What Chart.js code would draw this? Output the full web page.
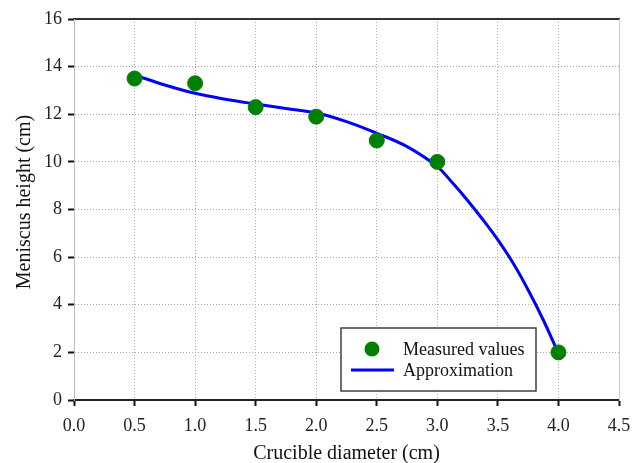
<!DOCTYPE html>
<html>
<head>
<meta charset="utf-8">
<script src="https://cdn.jsdelivr.net/npm/chart.js@4/dist/chart.umd.min.js"></script>
<style>
  html, body { margin: 0; padding: 0; background: #fff; }
  #wrap { width: 633px; height: 463px; }
</style>
</head>
<body>
<div id="wrap"><canvas id="c" width="633" height="463"></canvas></div>
<script>
// Measured meniscus heights for each crucible diameter
const diameters = [0.5, 1.0, 1.5, 2.0, 2.5, 3.0, 4.0];
const heights = [13.5, 13.3, 12.3, 11.9, 10.9, 10.0, 2.0];

// Approximating curve, sampled along its length
const fitDiameters = [0.5, 0.75, 1.0, 1.25, 1.5, 1.75, 2.0, 2.25, 2.5, 2.75, 3.0, 3.125, 3.25, 3.375, 3.5, 3.625, 3.75, 3.875, 4.0];
const fitHeights = [13.65, 13.23, 12.88, 12.63, 12.43, 12.24, 12.05, 11.69, 11.2, 10.64, 9.8, 9.12, 8.38, 7.58, 6.72, 5.75, 4.62, 3.36, 1.95];

const xTicks = [0, 0.5, 1.0, 1.5, 2.0, 2.5, 3.0, 3.5, 4.0, 4.5];
const yTicks = [0, 2, 4, 6, 8, 10, 12, 14, 16];

const seriesNames = ['Measured values', 'Approximation'];

const FONT = '"Liberation Serif", "Times New Roman", serif';
const GREEN = '#008000';
const BLUE = '#0000ff';
const GRID = '#ababab';

const measured = diameters.map((d, i) => ({ x: d, y: heights[i] }));
const fit = fitDiameters.map((d, i) => ({ x: d, y: fitHeights[i] }));

// Legend box drawn inside the plot, lower right
const boxLegend = {
  id: 'boxLegend',
  afterDraw(chart) {
    const { ctx, chartArea } = chart;
    const left = chartArea.left + 267;
    const right = chartArea.right - 83;
    const bottom = chartArea.bottom - 9;
    const top = bottom - 63;
    ctx.save();
    ctx.fillStyle = '#fff';
    ctx.fillRect(left, top, right - left, bottom - top);
    ctx.strokeStyle = '#404040';
    ctx.lineWidth = 1.5;
    ctx.strokeRect(left, top, right - left, bottom - top);

    const row1 = top + 21;
    const row2 = top + 42;
    ctx.fillStyle = GREEN;
    ctx.beginPath();
    ctx.arc(left + 31, row1, 7.5, 0, Math.PI * 2);
    ctx.fill();

    ctx.strokeStyle = BLUE;
    ctx.lineWidth = 3;
    ctx.beginPath();
    ctx.moveTo(left + 10, row2);
    ctx.lineTo(left + 53, row2);
    ctx.stroke();

    ctx.fillStyle = '#111';
    ctx.font = '18px ' + FONT;
    ctx.textBaseline = 'middle';
    ctx.textAlign = 'left';
    ctx.fillText(seriesNames[0], left + 62, row1 + 1);
    ctx.fillText(seriesNames[1], left + 62, row2 + 1);
    ctx.restore();
  }
};

const edgeless = (vals) => (c) => {
  const v = c.tick ? c.tick.value : null;
  return (v === vals[0] || v === vals[1]) ? 'rgba(0,0,0,0)' : GRID;
};

new Chart(document.getElementById('c'), {
  type: 'scatter',
  data: {
    datasets: [
      {
        label: seriesNames[0],
        data: measured,
        backgroundColor: GREEN,
        borderColor: GREEN,
        pointRadius: 7.5,
        pointHoverRadius: 7.5,
        showLine: false,
        order: 0
      },
      {
        label: seriesNames[1],
        data: fit,
        type: 'line',
        borderColor: BLUE,
        borderWidth: 3,
        pointRadius: 0,
        fill: false,
        tension: 0.4,
        order: 1
      }
    ]
  },
  options: {
    responsive: false,
    animation: false,
    layout: { padding: 0 },
    plugins: {
      legend: { display: false },
      tooltip: { enabled: false }
    },
    scales: {
      x: {
        type: 'linear',
        position: 'bottom',
        min: 0,
        max: 4.5,
        afterBuildTicks: (s) => { s.ticks = xTicks.map(v => ({ value: v })); },
        afterFit: (s) => { s.height = 63; s.paddingLeft = 0; s.paddingRight = 0; },
        ticks: {
          font: { family: FONT, size: 18 },
          color: '#222',
          padding: 9,
          maxRotation: 0,
          callback: (v) => Number(v).toFixed(1)
        },
        grid: {
          color: edgeless([0, 4.5]),
          lineWidth: 1,
          tickColor: '#111',
          tickLength: 6,
          tickWidth: 2,
          tickBorderDash: []
        },
        border: { color: '#222', width: 2, dash: [1, 2] },
        title: {
          display: true,
          text: 'Crucible diameter (cm)',
          font: { family: FONT, size: 20 },
          color: '#111',
          padding: { top: 0, bottom: -3 }
        }
      },
      xTop: {
        type: 'linear',
        position: 'top',
        min: 0,
        max: 4.5,
        afterFit: (s) => { s.height = 19; s.paddingLeft = 0; s.paddingRight = 0; },
        ticks: { display: false },
        grid: { display: false, drawTicks: false },
        border: { color: '#333', width: 2 }
      },
      y: {
        type: 'linear',
        position: 'left',
        min: 0,
        max: 16,
        afterBuildTicks: (s) => { s.ticks = yTicks.map(v => ({ value: v })); },
        afterFit: (s) => { s.width = 74; s.paddingTop = 0; s.paddingBottom = 0; },
        ticks: {
          font: { family: FONT, size: 18 },
          color: '#222',
          padding: 6
        },
        grid: {
          color: edgeless([0, 16]),
          lineWidth: 1,
          tickColor: '#111',
          tickLength: 6,
          tickWidth: 2,
          tickBorderDash: []
        },
        border: { color: '#bdbdbd', width: 1, dash: [1, 2] },
        title: {
          display: true,
          text: '   Meniscus height (cm)',
          font: { family: FONT, size: 20 },
          color: '#111',
          padding: { top: 13, bottom: 0 }
        }
      },
      yRight: {
        type: 'linear',
        position: 'right',
        min: 0,
        max: 16,
        afterFit: (s) => { s.width = 14; },
        ticks: { display: false },
        grid: { display: false, drawTicks: false },
        border: { color: '#c8c8c8', width: 1 }
      }
    }
  },
  plugins: [boxLegend]
});
</script>
</body>
</html>
